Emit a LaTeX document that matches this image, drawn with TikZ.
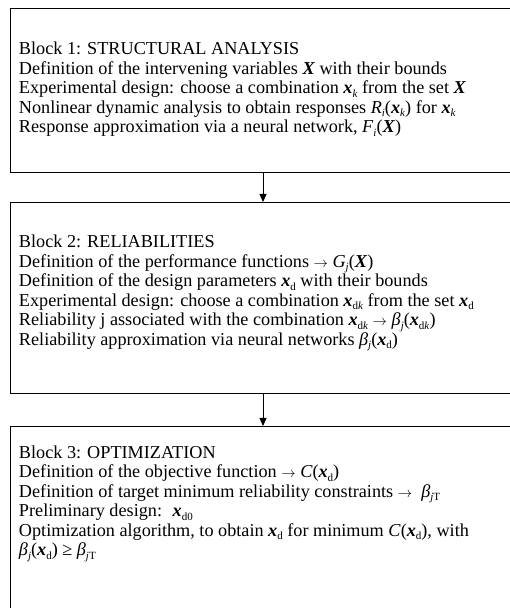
\documentclass[tikz,border=0pt]{standalone}
\usepackage{fontspec}
\setmainfont{Liberation Serif}
\usetikzlibrary{arrows.meta}
\newcommand{\vx}{\textbf{\textit{x}}}
\newcommand{\vX}{\textbf{\textit{X}}}
\newcommand{\sbs}[1]{\raisebox{-3.6pt}{\fontsize{11}{11}\selectfont #1}}
\newcommand{\toarr}{{\fontsize{15.5}{15.5}\selectfont$\rightarrow$}}
\begin{document}
\begin{tikzpicture}[x=1pt,y=1pt]
\definecolor{fillColor}{RGB}{255,255,255}
\definecolor{drawColor}{RGB}{0,0,0}
\path[use as bounding box,fill=fillColor] (0,0) rectangle (510,608);
\tikzset{blockbox/.style={draw=drawColor,line width=0.8pt,minimum width=506pt,inner sep=0pt,outer sep=0pt},
  blocktext/.style={text=drawColor,anchor=north west,align=left,inner sep=0pt,outer sep=0pt,font=\fontsize{18.2}{19.5}\selectfont}}
\begin{scope}
\path[clip] (0,0) rectangle (510,608);

\node[blockbox,minimum height=164pt] (block1) at (263,518.0) {};

\node[blockbox,minimum height=191pt] (block2) at (263,310.5) {};

\node[blockbox,minimum height=194pt] (block3) at (263,85.0) {};

\draw[draw=drawColor,line width=0.8pt,-{Triangle[width=7pt,length=8pt]}] (block1.south) -- (block2.north);

\draw[draw=drawColor,line width=0.8pt,-{Triangle[width=7pt,length=8pt]}] (block2.south) -- (block3.north);
\end{scope}

\node[blocktext] (text1) at (19,566.0) {Block 1: STRUCTURAL ANALYSIS\\
Definition of the intervening variables \vX{} with their bounds\\
Experimental design: choose a combination \vx\sbs{\textit{k}} from the set \vX\\
Nonlinear dynamic analysis to obtain responses \textit{R}\sbs{\textit{i}}(\vx\sbs{\textit{k}}) for \vx\sbs{\textit{k}}\\
Response approximation via a neural network, \textit{F}\sbs{\textit{i}}(\vX)};

\node[blocktext] (text2) at (19,373.0) {Block 2: RELIABILITIES\\
Definition of the performance functions \toarr{} \textit{G}\sbs{\textit{j}}(\vX)\\
Definition of the design parameters \vx\sbs{d} with their bounds\\
Experimental design: choose a combination \vx\sbs{d\textit{k}} from the set \vx\sbs{d}\\
Reliability j associated with the combination \vx\sbs{d\textit{k}} \toarr{} \textit{β}\sbs{\textit{j}}(\vx\sbs{d\textit{k}})\\
Reliability approximation via neural networks \textit{β}\sbs{\textit{j}}(\vx\sbs{d})};

\node[blocktext] (text3) at (19,162.5) {Block 3: OPTIMIZATION\\
Definition of the objective function \toarr{} \textit{C}(\vx\sbs{d})\\
Definition of target minimum reliability constraints \toarr{} \ \textit{β}\sbs{\textit{j}T}\\
Preliminary design: \ \vx\sbs{d0}\\
Optimization algorithm, to obtain \vx\sbs{d} for minimum \textit{C}(\vx\sbs{d}), with\\
\textit{β}\sbs{\textit{j}}(\vx\sbs{d}) ≥ \textit{β}\sbs{\textit{j}T}};
\end{tikzpicture}
\end{document}
